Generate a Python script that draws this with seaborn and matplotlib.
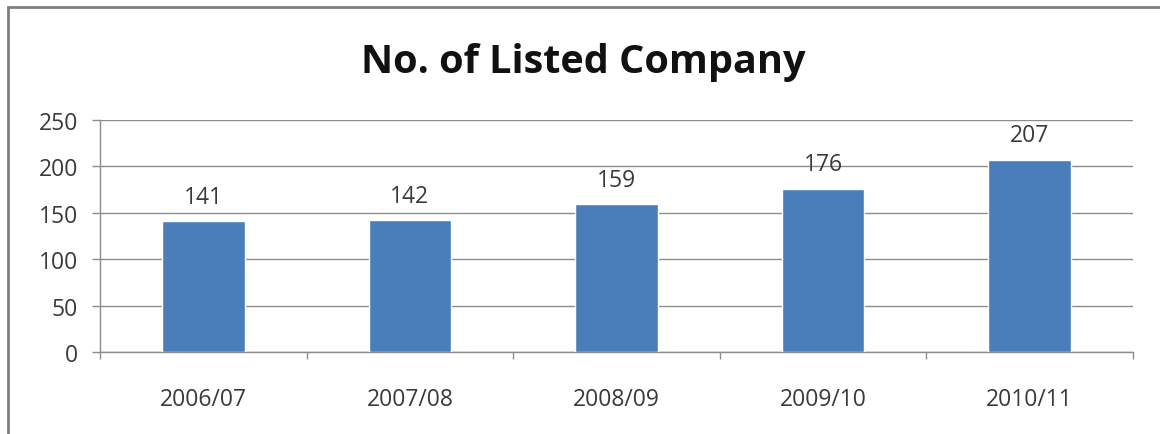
import matplotlib
matplotlib.use("Agg")
import matplotlib.pyplot as plt
from matplotlib.patches import Rectangle
import seaborn as sns
import pandas as pd

years = ["2006/07", "2007/08", "2008/09", "2009/10", "2010/11"]
companies = [141, 142, 159, 176, 207]
y_ticks = [0, 50, 100, 150, 200, 250]

sns.set_theme(style="white")
plt.rcParams["font.family"] = ["Open Sans", "DejaVu Sans"]

df = pd.DataFrame({"year": years, "companies": companies})

fig = plt.figure(figsize=(11.6, 4.35), dpi=100)
ax = fig.add_axes([0.0862, 0.1885, 0.8905, 0.5333])

sns.barplot(data=df, x="year", y="companies", color="#4A7EBB",
            saturation=1, width=0.40, ax=ax, zorder=3)

ax.set_ylim(0, 250)
ax.set_xlim(-0.5, len(years) - 0.5)
ax.set_yticks(y_ticks)
ax.yaxis.grid(True, color="#8C8C8C", linewidth=1.0, zorder=0)
ax.set_xlabel("")
ax.set_ylabel("")

for side in ["top", "right"]:
    ax.spines[side].set_visible(False)
for side in ["left", "bottom"]:
    ax.spines[side].set_color("#8C8C8C")
    ax.spines[side].set_linewidth(1.0)

ax.tick_params(axis="y", left=True, length=6, width=1, color="#8C8C8C",
               labelsize=16.5, labelcolor="#3A3A3A", pad=10)
ax.tick_params(axis="x", bottom=False, labelsize=16.5, labelcolor="#3A3A3A", pad=19)
ax.set_xticks([i - 0.5 for i in range(len(years) + 1)], minor=True)
ax.tick_params(axis="x", which="minor", bottom=True, length=5, width=1, color="#8C8C8C")

for i, v in enumerate(companies):
    ax.annotate(str(v), (i, v), xytext=(0, 9), textcoords="offset points",
                ha="center", va="bottom", fontsize=16.5, color="#3A3A3A")

fig.text(0.503, 0.857, "No. of Listed Company", ha="center", va="center",
         fontsize=28.5, fontweight="bold", color="#111111")

# outer chart frame
fig.add_artist(Rectangle((8 / 1160, -0.1), 1.2, 0.1 + (435 - 8) / 435,
                         transform=fig.transFigure, fill=False,
                         edgecolor="#7F7F7F", linewidth=2))

fig.savefig("out.png", dpi=100, facecolor="white")
